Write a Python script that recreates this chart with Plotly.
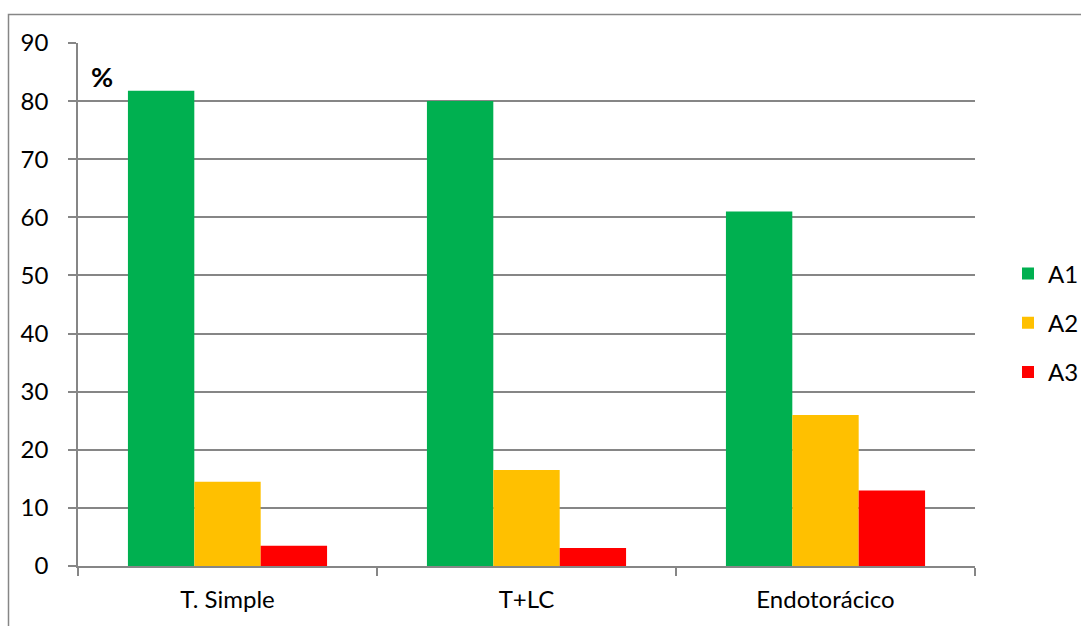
import plotly.graph_objects as go

categories = ["T. Simple", "T+LC", "Endotorácico"]
series_names = ["A1", "A2", "A3"]
a1_values = [81.8, 80.0, 61.0]
a2_values = [14.5, 16.5, 26.0]
a3_values = [3.5, 3.1, 13.0]
series_colors = ["#00B050", "#FFC000", "#FF0000"]
y_ticks = [0, 10, 20, 30, 40, 50, 60, 70, 80, 90]

W, H = 1081, 626
L, R, T, B = 78, 975, 43, 566
GRID = "#868686"
FONT = "Lato"
FS = 24

fig = go.Figure()
for name, vals, col in zip(series_names, [a1_values, a2_values, a3_values], series_colors):
    fig.add_trace(go.Bar(
        x=categories, y=vals, name=name, marker=dict(color=col, line=dict(width=0)),
        legendgroup=name,
    ))

# paper spans from the left margin to the right edge of the page
PW = W - L

def px_x(p):
    return (p - L) / PW

def px_y(p):
    return (B - p) / (B - T)

fig.update_layout(
    width=W, height=H,
    margin=dict(l=L, r=0, t=T, b=H - B, autoexpand=False),
    paper_bgcolor="white", plot_bgcolor="white",
    barmode="group", bargap=0.334, bargroupgap=0,
    font=dict(family=FONT, size=FS, color="#000000"),
    showlegend=True,
    legend=dict(
        x=px_x(1008), y=px_y(323), xanchor="left", yanchor="middle",
        font=dict(family=FONT, size=FS), tracegroupgap=15, itemwidth=30,
        bgcolor="rgba(0,0,0,0)",
    ),
    xaxis=dict(
        domain=[0, (R - L) / PW],
        type="category", tickson="boundaries", ticks="outside", ticklen=8,
        tickcolor=GRID, tickwidth=1.5, showline=True, linecolor=GRID, linewidth=1.5,
        showgrid=False, ticklabelstandoff=11, tickfont=dict(family=FONT, size=FS),
    ),
    yaxis=dict(
        range=[0, 90], tickvals=y_ticks, ticks="outside", ticklen=8,
        tickcolor=GRID, tickwidth=1.5, showline=True, linecolor=GRID, linewidth=1.5,
        showgrid=True, gridcolor=GRID, gridwidth=1.5, zeroline=False,
        ticklabelstandoff=15, tickfont=dict(family=FONT, size=FS),
    ),
    shapes=[dict(
        type="rect", xref="paper", yref="paper",
        x0=px_x(8.5), x1=px_x(1090), y0=px_y(640), y1=px_y(14.5),
        line=dict(color=GRID, width=1.5), fillcolor="rgba(0,0,0,0)", layer="below",
    )],
    annotations=[dict(
        text="<b>%</b>", xref="paper", yref="paper", x=px_x(102), y=px_y(77),
        xanchor="center", yanchor="middle", showarrow=False,
        font=dict(family=FONT, size=27, color="#000000"),
    )],
)

fig.write_html("out.html")
